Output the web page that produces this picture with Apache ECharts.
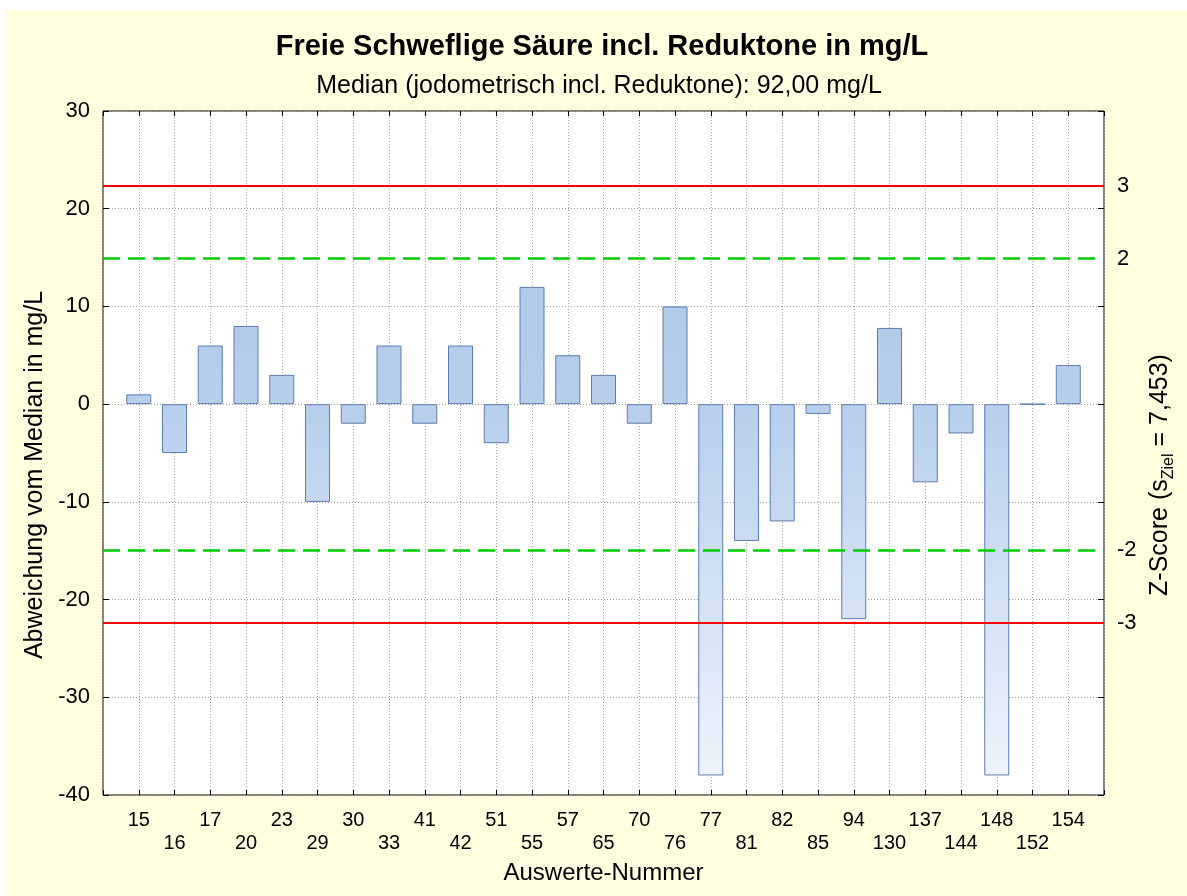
<!DOCTYPE html>
<html>
<head>
<meta charset="utf-8">
<script src="https://cdn.jsdelivr.net/npm/echarts@6/dist/echarts.min.js"></script>
<style>
  html, body { margin: 0; padding: 0; background: #ffffff; }
  #chart { width: 1187px; height: 896px; }
</style>
</head>
<body>
<div id="chart"></div>
<script>
// Chart texts
const titleText = 'Freie Schweflige Säure incl. Reduktone in mg/L';
const subtitleText = 'Median (jodometrisch incl. Reduktone): 92,00 mg/L';
const xAxisName = 'Auswerte-Nummer';
const yAxisName = 'Abweichung vom Median in mg/L';

// Lab numbers (categories) and deviation from the median in mg/L
const labNumbers = ['15', '16', '17', '20', '23', '29', '30', '33', '41', '42', '51', '55', '57', '65',
                    '70', '76', '77', '81', '82', '85', '94', '130', '137', '144', '148', '152', '154'];
const deviations = [1, -5, 6, 8, 3, -10, -2, 6, -2, 6, -4, 12, 5, 3,
                    -2, 10, -38, -14, -12, -1, -22, 7.8, -8, -3, -38, 0, 4];

// Left value axis range
const yMin = -40;
const yMax = 30;
const yStep = 10;

// Target standard deviation and z-score limits
const sZiel = 7.453;
const zLabels = [3, 2, -2, -3];
const zActionLimits = [3, -3];
const zWarningLimits = [2, -2];

const FONT = 'Liberation Sans, Arial, Helvetica, sans-serif';

const chart = echarts.init(document.getElementById('chart'), null, { renderer: 'canvas' });

const zValue = z => z * sZiel;

// Lab positions run 0..n-1; the axis leaves one slot free on each side
const xMin = -1;
const xMax = labNumbers.length;

const labLabel = v => {
  const i = Math.round(v);
  if (i < 0 || i >= labNumbers.length) return '';
  return i % 2 === 1 ? '\n' + labNumbers[i] : labNumbers[i];
};

const tickStyle = { show: true, inside: true, lineStyle: { color: '#000', width: 1 } };
const dottedGrid = { show: true, lineStyle: { color: '#A0A0A0', type: [1, 2], width: 1 } };

const option = {
  backgroundColor: '#ffffff',
  animation: false,
  graphic: [{
    type: 'rect',
    z: -10,
    silent: true,
    shape: { x: 5, y: 10, width: 1182, height: 886 },
    style: { fill: '#FFFFE0' }
  }],
  title: [{
    text: titleText,
    left: 597,
    top: 27,
    textAlign: 'center',
    textStyle: { fontFamily: FONT, fontSize: 29, fontWeight: 'bold', color: '#000' }
  }, {
    text: subtitleText,
    left: 594,
    top: 69,
    textAlign: 'center',
    textStyle: { fontFamily: FONT, fontSize: 25, fontWeight: 'normal', color: '#000' }
  }],
  grid: {
    left: 103, top: 111, width: 1001, height: 684,
    show: true,
    backgroundColor: '#ffffff',
    borderColor: '#000000',
    borderWidth: 1,
    containLabel: false
  },
  xAxis: [{
    type: 'value',
    position: 'bottom',
    min: xMin,
    max: xMax,
    interval: 1,
    name: xAxisName,
    nameLocation: 'middle',
    nameGap: 66,
    nameTextStyle: { fontFamily: FONT, fontSize: 24, color: '#000' },
    axisLine: { show: false, onZero: false },
    axisTick: Object.assign({ length: 5 }, tickStyle),
    axisLabel: {
      margin: 14,
      fontFamily: FONT,
      fontSize: 20,
      lineHeight: 23,
      color: '#000',
      verticalAlign: 'top',
      formatter: labLabel
    },
    splitLine: dottedGrid
  }, {
    type: 'value',
    position: 'top',
    min: xMin,
    max: xMax,
    interval: 1,
    axisLine: { show: false, onZero: false },
    axisTick: Object.assign({ length: 5 }, tickStyle),
    axisLabel: { show: false },
    splitLine: { show: false }
  }],
  yAxis: [{
    type: 'value',
    position: 'left',
    min: yMin,
    max: yMax,
    interval: yStep,
    name: yAxisName,
    nameLocation: 'middle',
    nameRotate: 90,
    nameGap: 52,
    nameTextStyle: { fontFamily: FONT, fontSize: 25, color: '#000', padding: [0, 44, 0, 0] },
    axisLine: { show: false, onZero: false },
    axisTick: Object.assign({ length: 6 }, tickStyle),
    axisLabel: { margin: 13, fontFamily: FONT, fontSize: 22, color: '#000' },
    splitLine: dottedGrid
  }, {
    type: 'value',
    position: 'right',
    min: yMin,
    max: yMax,
    interval: yStep,
    name: 'Z-Score (s{sub|Ziel} = 7,453)',
    nameLocation: 'middle',
    nameRotate: 90,
    nameGap: 38,
    nameTextStyle: {
      fontFamily: FONT, fontSize: 25, color: '#000',
      padding: [0, 44, 0, 0],
      rich: {
        sub: { fontFamily: FONT, fontSize: 16, color: '#000', lineHeight: 34, verticalAlign: 'bottom' }
      }
    },
    axisLine: { show: false, onZero: false },
    axisTick: Object.assign({ length: 6 }, tickStyle),
    axisLabel: {
      margin: 13,
      fontFamily: FONT,
      fontSize: 22,
      color: '#000',
      customValues: zLabels.map(zValue),
      formatter: v => {
        const z = zLabels.find(k => Math.abs(zValue(k) - v) < 1e-6);
        return z === undefined ? '' : String(z);
      }
    },
    splitLine: { show: false }
  }],
  series: [{
    type: 'bar',
    xAxisIndex: 0,
    yAxisIndex: 0,
    data: deviations.map((v, i) => [i, v]),
    barWidth: 25,
    itemStyle: {
      color: {
        type: 'linear', x: 0, y: 111, x2: 0, y2: 795, global: true,
        colorStops: [
          { offset: 0, color: '#A8C3E8' },
          { offset: 0.43, color: '#B7CEEC' },
          { offset: 1, color: '#F0F5FC' }
        ]
      },
      borderColor: '#5A7CAE',
      borderWidth: 1
    },
    emphasis: { disabled: true },
    markLine: {
      silent: true,
      symbol: 'none',
      label: { show: false },
      z: 5,
      data: [
        ...zActionLimits.map(z => ({ yAxis: zValue(z), lineStyle: { color: '#FF0000', width: 2, type: 'solid' } })),
        ...zWarningLimits.map(z => ({ yAxis: zValue(z), lineStyle: { color: '#00CC00', width: 2.5, type: [17, 8] } }))
      ]
    }
  }]
};

chart.setOption(option);
</script>
</body>
</html>
